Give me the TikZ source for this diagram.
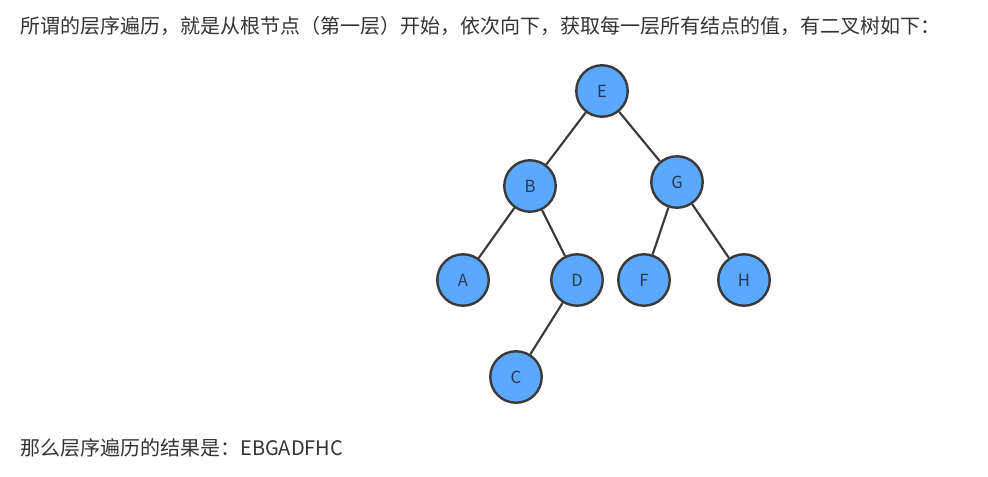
\documentclass[tikz,border=0pt]{standalone}
\usepackage{fontspec}
\setmainfont{Noto Sans CJK SC}
\usepackage{tikz}
\usetikzlibrary{positioning}
\definecolor{treeblue}{RGB}{90,168,255}
\definecolor{treeline}{RGB}{58,58,58}
\definecolor{txtgray}{RGB}{51,51,51}
\definecolor{lblnavy}{RGB}{38,56,84}
\tikzset{
  treenode/.style={circle, draw=treeline, line width=1.8pt, fill=treeblue,
    minimum size=38.6pt, inner sep=0pt, text=lblnavy,
    font=\fontsize{12.5pt}{14pt}\selectfont},
  treeedge/.style={treeline, line width=1.6pt},
  plaintext/.style={anchor=base west, inner sep=0pt, text=txtgray,
    font=\fontsize{15pt}{18pt}\selectfont}
}

\begin{document}
\begin{tikzpicture}[x=0.75pt, y=-0.75pt]
\useasboundingbox (0,0) rectangle (988,477);
% Intro sentence
\node[plaintext] (intro) at (20,34) {所谓的层序遍历，就是从根节点（第一层）开始，依次向下，获取每一层所有结点的值，有二叉树如下：};
% Tree nodes
\foreach \n/\x/\y in {E/602/91, B/530/186, G/677/182, A/463/280, D/577/280,
                      F/644/280, H/744/280, C/516/377} {
  \node[treenode] (\n) at (\x,\y) {\n};
}
% Edges
\foreach \p/\c in {E/B, E/G, B/A, B/D, D/C, G/F, G/H} {
  \draw[treeedge] (\p) -- (\c);
}
% Result
\node[plaintext] (result) at (20,455) {那么层序遍历的结果是：EBGADFHC};
\end{tikzpicture}
\end{document}
